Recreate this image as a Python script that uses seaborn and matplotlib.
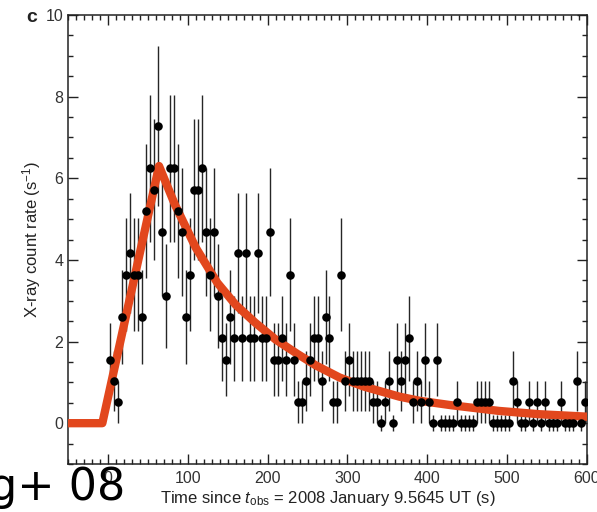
import matplotlib
matplotlib.use("Agg")
import matplotlib.pyplot as plt
from matplotlib.ticker import MultipleLocator
import seaborn as sns
import pandas as pd

# 5 s bins, centre times (s)
time_s = [
    2.5, 7.5, 12.5, 17.5, 22.5, 27.5, 32.5, 37.5, 42.5, 47.5,
    52.5, 57.5, 62.5, 67.5, 72.5, 77.5, 82.5, 87.5, 92.5, 97.5,
    102.5, 107.5, 112.5, 117.5, 122.5, 127.5, 132.5, 137.5, 142.5, 147.5,
    152.5, 157.5, 162.5, 167.5, 172.5, 177.5, 182.5, 187.5, 192.5, 197.5,
    202.5, 207.5, 212.5, 217.5, 222.5, 227.5, 232.5, 237.5, 242.5, 247.5,
    252.5, 257.5, 262.5, 267.5, 272.5, 277.5, 282.5, 287.5, 292.5, 297.5,
    302.5, 307.5, 312.5, 317.5, 322.5, 327.5, 332.5, 337.5, 342.5, 347.5,
    352.5, 357.5, 362.5, 367.5, 372.5, 377.5, 382.5, 387.5, 392.5, 397.5,
    402.5, 407.5, 412.5, 417.5, 422.5, 427.5, 432.5, 437.5, 442.5, 447.5,
    452.5, 457.5, 462.5, 467.5, 472.5, 477.5, 482.5, 487.5, 492.5, 497.5,
    502.5, 507.5, 512.5, 517.5, 522.5, 527.5, 532.5, 537.5, 542.5, 547.5,
    552.5, 557.5, 562.5, 567.5, 572.5, 577.5, 582.5, 587.5, 592.5, 597.5,
]

# count rate (s^-1)
rate = [
    1.56, 1.04, 0.52, 2.6, 3.64, 4.16, 3.64, 3.64, 2.6, 5.2,
    6.24, 5.72, 7.28, 4.68, 3.12, 6.24, 6.24, 5.2, 4.68, 2.6,
    3.64, 5.72, 5.72, 6.24, 4.68, 3.64, 4.68, 3.12, 2.08, 1.56,
    2.6, 2.08, 4.16, 2.08, 4.16, 2.08, 2.08, 4.16, 2.08, 2.08,
    4.68, 1.56, 1.56, 2.08, 1.56, 3.64, 1.56, 0.52, 0.52, 1.04,
    1.56, 2.08, 2.08, 1.04, 2.6, 2.08, 0.52, 0.52, 3.64, 1.04,
    1.56, 1.04, 1.04, 1.04, 1.04, 1.04, 0.52, 0.52, 0.0, 0.52,
    1.04, 0.0, 1.56, 1.04, 1.56, 2.08, 0.52, 1.04, 0.52, 1.56,
    0.52, 0.0, 1.56, 0.0, 0.0, 0.0, 0.0, 0.52, 0.0, 0.0,
    0.0, 0.0, 0.52, 0.52, 0.52, 0.52, 0.0, 0.0, 0.0, 0.0,
    0.0, 1.04, 0.52, 0.0, 0.0, 0.52, 0.0, 0.52, 0.0, 0.52,
    0.0, 0.0, 0.0, 0.52, 0.0, 0.0, 0.0, 1.04, 0.0, 0.52,
]

# error bar half-length for each rate level
err_by_rate = {
    0.0: 0.2, 0.52: 0.52, 1.04: 0.74, 1.56: 0.9, 2.08: 1.04, 2.6: 1.16,
    3.12: 1.27, 3.64: 1.38, 4.16: 1.47, 4.68: 1.56, 5.2: 1.64,
    5.72: 1.72, 6.24: 1.8, 7.28: 1.95,
}

# fitted model curve (red)
model_t = [-50, -7, 64, 84, 110, 137, 160, 184, 210, 237, 260, 290, 320,
           365, 390, 430, 490, 540, 600]
model_rate = [0, 0, 6.3, 5.35, 4.3, 3.44, 2.9, 2.47, 2.05, 1.7, 1.42, 1.12,
              0.9, 0.65, 0.55, 0.44, 0.30, 0.22, 0.16]

sns.set_style("ticks")
plt.rcParams["font.family"] = ["Liberation Sans", "DejaVu Sans"]
plt.rcParams["mathtext.fontset"] = "custom"
plt.rcParams["mathtext.rm"] = "Liberation Sans"
plt.rcParams["mathtext.it"] = "Liberation Sans:italic"

df = pd.DataFrame({"t": time_s, "rate": rate})
df["err"] = df["rate"].map(err_by_rate)
model = pd.DataFrame({"t": model_t, "rate": model_rate})

fig = plt.figure(figsize=(5.97, 5.12), dpi=100)
ax = fig.add_axes([68 / 597, 1 - 464 / 512, 519 / 597, 449 / 512])

ax.errorbar(df["t"], df["rate"], yerr=df["err"], fmt="none",
            ecolor="#262626", elinewidth=1.0, capsize=0, zorder=2)
sns.lineplot(data=model, x="t", y="rate", color="#e2471d", linewidth=6,
             estimator=None, sort=False, ax=ax, zorder=3)
sns.scatterplot(data=df, x="t", y="rate", color="black", s=38,
                linewidth=0, ax=ax, zorder=4)

ax.set_xlim(-50, 600)
ax.set_ylim(-1, 10)
ax.xaxis.set_major_locator(MultipleLocator(100))
ax.xaxis.set_minor_locator(MultipleLocator(10))
ax.yaxis.set_major_locator(MultipleLocator(2))
ax.yaxis.set_minor_locator(MultipleLocator(0.5))
ax.tick_params(which="both", direction="in", top=True, right=True,
               color="#222222", width=1.0)
ax.tick_params(which="major", length=7, labelsize=11.5, labelcolor="#333333")
ax.tick_params(which="minor", length=3.5)
ax.tick_params(axis="y", which="major", pad=3.5)
ax.tick_params(axis="x", which="major", pad=5)
for sp in ax.spines.values():
    sp.set_color("#222222")
    sp.set_linewidth(1.1)

ax.set_xlabel(r"Time since $t_{\mathrm{obs}}$ = 2008 January 9.5645 UT (s)",
              fontsize=12, color="#222222", labelpad=2)
ax.set_ylabel(r"X-ray count rate (s$^{-1}$)", fontsize=12,
              color="#222222", labelpad=2)

fig.text(32 / 597, 1 - 18 / 512, "c", fontsize=14, fontweight="bold",
         ha="center", va="center", color="#222222")
fig.text(-11 / 597, 1 - 500 / 512, "g+ 08", fontsize=32,
         family="DejaVu Sans", ha="left", va="baseline", color="black")

fig.savefig("out.png", dpi=100)
